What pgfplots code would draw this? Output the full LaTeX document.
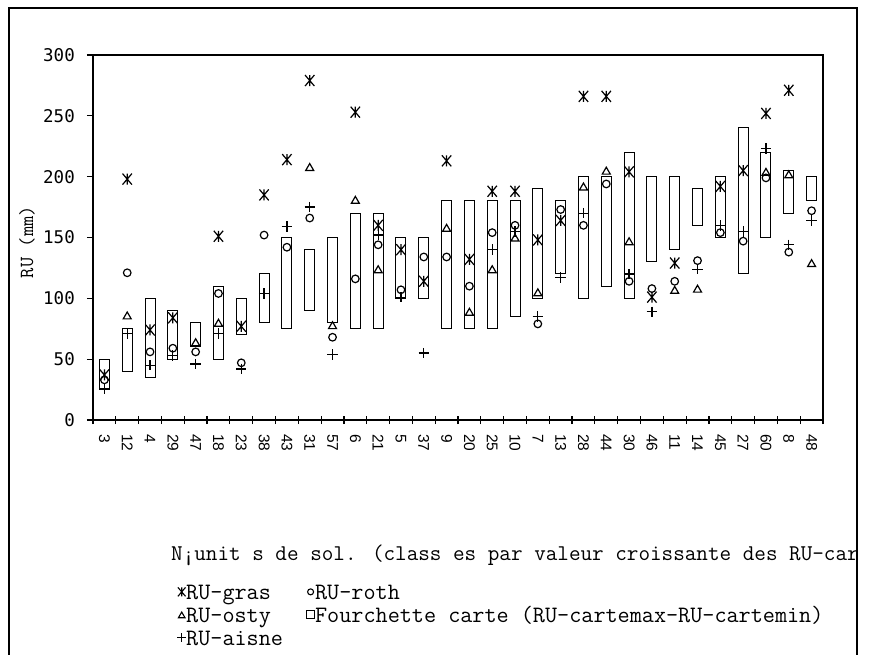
\documentclass[border=0pt]{standalone}
\usepackage{fontspec}
\usepackage{pgfplots}
\pgfplotsset{compat=1.18}
\usepackage{pgfplotstable}
\newfontfamily\dvm{DejaVu Sans Mono}
\newfontfamily\arl{Liberation Sans}

\pgfdeclareplotmark{xast}{%
  \pgfpathmoveto{\pgfqpoint{0pt}{-\pgfplotmarksize}}%
  \pgfpathlineto{\pgfqpoint{0pt}{\pgfplotmarksize}}%
  \pgfpathmoveto{\pgfqpoint{-0.85\pgfplotmarksize}{-\pgfplotmarksize}}%
  \pgfpathlineto{\pgfqpoint{0.85\pgfplotmarksize}{\pgfplotmarksize}}%
  \pgfpathmoveto{\pgfqpoint{-0.85\pgfplotmarksize}{\pgfplotmarksize}}%
  \pgfpathlineto{\pgfqpoint{0.85\pgfplotmarksize}{-\pgfplotmarksize}}%
  \pgfusepathqstroke}

\pgfplotstableread{
x lo hi rng gras roth osty aisne
1 25 50 25 37 33 nan 26
2 40 75 35 198 121 85 71
3 35 100 65 74 56 nan 45
4 50 90 40 84 59 nan 53
5 60 80 20 nan 56 63 46
6 50 110 60 151 104 79 71
7 70 100 30 77 47 nan 42
8 80 120 40 185 152 nan 104
9 75 150 75 214 142 nan 159
10 90 140 50 279 166 207 175
11 80 150 70 nan 68 77 54
12 75 170 95 253 116 180 nan
13 75 170 95 160 144 123 152
14 100 150 50 140 107 nan 101
15 100 150 50 114 134 nan 55
16 75 180 105 213 134 157 nan
17 75 180 105 132 110 88 nan
18 75 180 105 188 154 123 140
19 85 180 95 188 160 149 155
20 100 190 90 148 79 104 85
21 120 180 60 164 173 nan 117
22 100 200 100 266 160 191 170
23 110 200 90 266 194 204 nan
24 100 220 120 204 114 146 120
25 130 200 70 101 108 nan 89
26 140 200 60 129 114 106 nan
27 160 190 30 nan 131 107 124
28 150 200 50 192 154 nan 160
29 120 240 120 205 147 nan 155
30 150 220 70 252 199 203 223
31 170 205 35 271 138 201 144
32 180 200 20 nan 172 128 164
}\data

\begin{document}
\begin{tikzpicture}[x=1pt,y=1pt]
\useasboundingbox (0,0) rectangle (871,654);
\begin{scope}
\clip (0,0) rectangle (856,654);
% boxes
\begin{axis}[at={(93pt,234pt)}, anchor=south west, scale only axis,
  width=730pt, height=365pt, xmin=0.5, xmax=32.5, ymin=0, ymax=300,
  hide axis, ybar stacked, bar width=10pt]
\addplot[draw=none, fill=none] table[x=x,y=lo]{\data};
\addplot[draw=black, fill=white, line width=1pt] table[x=x,y=rng]{\data};
\end{axis}
% markers and axes
\begin{axis}[at={(93pt,234pt)}, anchor=south west, scale only axis,
  width=730pt, height=365pt, xmin=0.5, xmax=32.5, ymin=0, ymax=300,
  /pgf/number format/assume math mode=true,
  axis line style={line width=1.2pt},
  xtick={1,...,32},
  xticklabels={3,12,4,29,47,18,23,38,43,31,57,6,21,5,37,9,20,25,10,7,13,28,44,30,46,11,14,45,27,60,8,48},
  major x tick style={draw=none},
  minor xtick={0.5,1.5,...,32.5},
  minor tick length=8pt,
  minor x tick style={line width=1.2pt, black},
  ytick={0,50,...,300},
  major tick length=6pt,
  major y tick style={line width=1.2pt, black, xshift=-3pt},
  tick align=center,
  xtick pos=lower, ytick pos=left,
  xticklabel shift=11pt,
  xticklabel style={rotate=-90, anchor=west, inner sep=0pt, font=\arl\fontsize{15.5}{16}\selectfont},
  yticklabel style={anchor=east, inner sep=0pt, font=\dvm\fontsize{17.5}{18}\selectfont, xshift=-15pt},
  legend columns=2,
  legend cell align=left,
  legend style={draw=none, fill=none, at={(0.111,-0.447)}, anchor=north west,
    font=\ttfamily\fontsize{23.5}{24}\selectfont,
    nodes={inner sep=0pt, text height=14pt, text depth=2pt},
    row sep=7pt,
    /tikz/every even column/.append style={column sep=23pt}},
  extra description/.code={\draw[line width=2pt] (rel axis cs:0,1)--(rel axis cs:0,0)--(rel axis cs:1,0);}
]
\addplot[only marks, mark=xast, mark size=5.5pt, line width=1.2pt, forget plot] table[x=x,y=gras]{\data};
\addplot[only marks, mark=o, mark size=3.8pt, line width=1.2pt, forget plot] table[x=x,y=roth]{\data};
\addplot[only marks, mark=triangle, mark size=4.6pt, line width=1.2pt, forget plot] table[x=x,y=osty]{\data};
\addplot[only marks, mark=+, mark size=5.2pt, line width=1.2pt, forget plot] table[x=x,y=aisne]{\data};
\addlegendimage{legend image code/.code={\pgfsetlinewidth{1.1pt}\pgfplotmarksize=4.5pt\pgftransformshift{\pgfqpoint{5pt}{1.5pt}}\pgfuseplotmark{xast}}}
\addlegendentry{RU-gras}
\addlegendimage{legend image code/.code={\pgfsetlinewidth{1.1pt}\pgfplotmarksize=3pt\pgftransformshift{\pgfqpoint{5pt}{1.5pt}}\pgfuseplotmark{o}}}
\addlegendentry{RU-roth}
\addlegendimage{legend image code/.code={\pgfsetlinewidth{1.1pt}\pgfplotmarksize=3.8pt\pgftransformshift{\pgfqpoint{5pt}{0.5pt}}\pgfuseplotmark{triangle}}}
\addlegendentry{RU-osty}
\addlegendimage{legend image code/.code={\draw[line width=1.1pt] (1pt,-2.5pt) rectangle (9pt,5.5pt);}}
\addlegendentry{Fourchette carte (RU-cartemax-RU-cartemin)}
\addlegendimage{legend image code/.code={\pgfsetlinewidth{1.1pt}\pgfplotmarksize=4.5pt\pgftransformshift{\pgfqpoint{5pt}{1.5pt}}\pgfuseplotmark{+}}}
\addlegendentry{RU-aisne}
\end{axis}
\node[anchor=west, inner sep=0pt, font=\ttfamily\fontsize{22.5}{24}\selectfont] at (171,99) {N¡unit s de sol. (class es par valeur croissante des RU-cartes)};
\node[rotate=90, inner sep=0pt, font=\ttfamily\fontsize{20}{20}\selectfont] at (27,412) {RU (mm)};
\end{scope}
\draw[line width=1.5pt] (9,-2) -- (9,646) -- (857,646) -- (857,-2);
\end{tikzpicture}
\end{document}
